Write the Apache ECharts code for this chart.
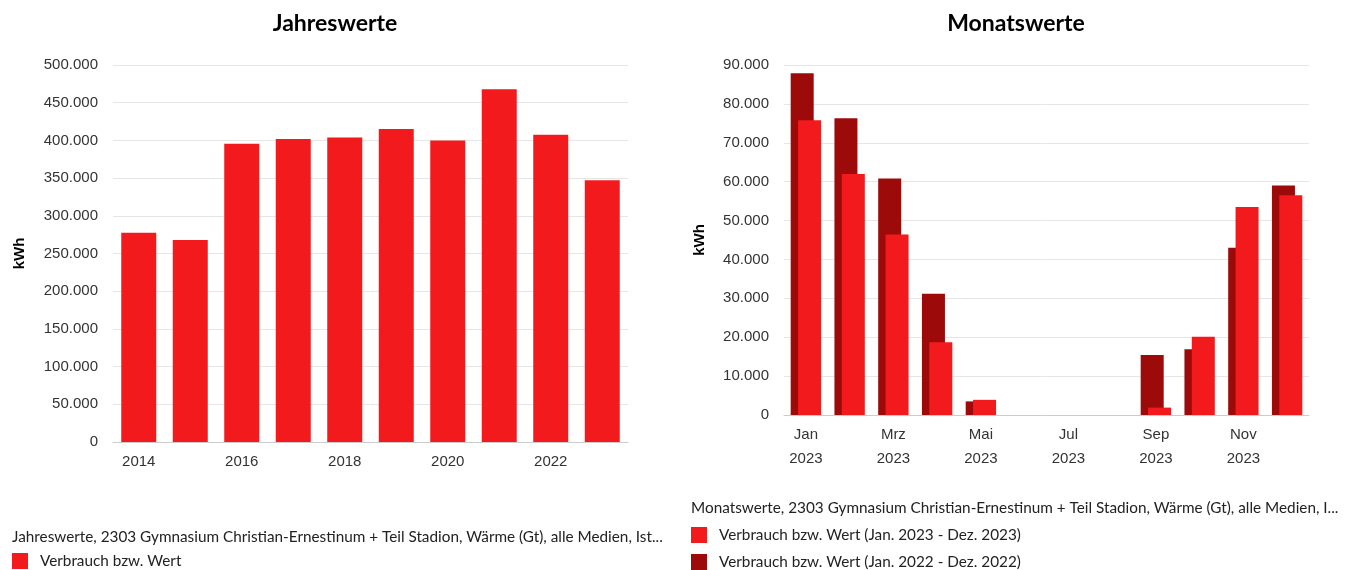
<!DOCTYPE html>
<html>
<head>
<meta charset="utf-8">
<script src="https://cdn.jsdelivr.net/npm/echarts@6/dist/echarts.min.js"></script>
<style>
html,body{margin:0;padding:0;background:#fff;}
#chart{width:1345px;height:570px;}
</style>
</head>
<body>
<div id="chart"></div>
<script>
// ---- data ----
const years = ['2014','2015','2016','2017','2018','2019','2020','2021','2022','2023'];
const yearValues = [277500, 268000, 395500, 402000, 404000, 415000, 400000, 468000, 407500, 347000];

const months = ['Jan','Feb','Mrz','Apr','Mai','Jun','Jul','Aug','Sep','Okt','Nov','Dez'];
const monthYear = '2023';
const values2022 = [87900, 76300, 60800, 31200, 3500, 0, 0, 0, 15400, 16900, 43000, 59000];
const values2023 = [75800, 62000, 46400, 18700, 3900, 0, 0, 0, 1900, 20100, 53500, 56500];

const leftTitle = 'Jahreswerte';
const rightTitle = 'Monatswerte';
const leftCaption = 'Jahreswerte, 2303 Gymnasium Christian-Ernestinum + Teil Stadion, Wärme (Gt), alle Medien, Ist...';
const rightCaption = 'Monatswerte, 2303 Gymnasium Christian-Ernestinum + Teil Stadion, Wärme (Gt), alle Medien, I...';
const nameYear = 'Verbrauch bzw. Wert';
const name2023 = 'Verbrauch bzw. Wert (Jan. 2023 - Dez. 2023)';
const name2022 = 'Verbrauch bzw. Wert (Jan. 2022 - Dez. 2022)';
const unit = 'kWh';

// ---- styles ----
const RED = '#f21a1d';
const DARK = '#9c0a0a';
const LABEL = '#333333';
const AXISFONT = '"Liberation Sans", Arial, sans-serif';
const CAPFONT = 'Lato, "Open Sans", sans-serif';
const CAPSIZE = 15.3;

function fmt(v){ return String(v).replace(/\B(?=(\d{3})+(?!\d))/g, '.'); }

const chart = echarts.init(document.getElementById('chart'));

const yAxisCommon = {
  type: 'value',
  min: 0,
  axisLabel: { color: LABEL, fontSize: 15, fontFamily: AXISFONT, margin: 15, formatter: fmt },
  splitLine: { lineStyle: { color: '#e6e6e6', width: 1 } },
  axisLine: { show: false },
  axisTick: { show: false },
  name: unit,
  nameLocation: 'middle',
  nameRotate: 90,
  nameTextStyle: { color: '#000', fontSize: 15, fontWeight: 'bold', fontFamily: AXISFONT }
};

const legendCommon = {
  orient: 'vertical', icon: 'rect', itemWidth: 16, itemHeight: 16, itemGap: 11, padding: 0, height: 80,
  textStyle: { color: '#222', fontSize: CAPSIZE, fontFamily: CAPFONT, padding: [0, 0, 0, 7] }
};

const option = {
  animation: false,
  backgroundColor: '#fff',
  graphic: [
    { type: 'text', x: 335, y: 12, style: { text: leftTitle, font: 'bold 23px Lato, "Open Sans", sans-serif', fill: '#000', align: 'center', verticalAlign: 'top' } },
    { type: 'text', x: 1016, y: 12, style: { text: rightTitle, font: 'bold 23px Lato, "Open Sans", sans-serif', fill: '#000', align: 'center', verticalAlign: 'top' } },
    { type: 'text', x: 12, y: 537, style: { text: leftCaption, font: CAPSIZE + 'px ' + CAPFONT, fill: '#222', align: 'left', verticalAlign: 'middle' } },
    { type: 'text', x: 691, y: 508, style: { text: rightCaption, font: CAPSIZE + 'px ' + CAPFONT, fill: '#222', align: 'left', verticalAlign: 'middle' } }
  ],
  legend: [
    Object.assign({}, legendCommon, { left: 12, top: 553, data: [nameYear] }),
    Object.assign({}, legendCommon, { left: 691, top: 527, data: [name2023, name2022] })
  ],
  grid: [
    { left: 113, top: 65, width: 515, height: 377 },
    { left: 784, top: 65, width: 525, height: 350 }
  ],
  xAxis: [
    {
      type: 'category', gridIndex: 0, data: years,
      axisLine: { lineStyle: { color: '#cccccc' } },
      axisTick: { interval: 1, alignWithLabel: true, length: 6, lineStyle: { color: '#cccccc' } },
      axisLabel: { interval: 1, color: LABEL, fontSize: 15, fontFamily: AXISFONT, margin: 12 }
    },
    {
      type: 'category', gridIndex: 1, data: months,
      axisLine: { lineStyle: { color: '#cccccc' } },
      axisTick: { interval: 1, alignWithLabel: true, length: 6, lineStyle: { color: '#cccccc' } },
      axisLabel: { interval: 1, color: LABEL, fontSize: 15, fontFamily: AXISFONT, margin: 8, lineHeight: 24,
        formatter: v => v + '\n' + monthYear }
    }
  ],
  yAxis: [
    Object.assign({}, yAxisCommon, { gridIndex: 0, max: 500000, interval: 50000, nameGap: 86 }),
    Object.assign({}, yAxisCommon, { gridIndex: 1, max: 90000, interval: 10000, nameGap: 77 })
  ],
  series: [
    {
      name: nameYear, type: 'bar', xAxisIndex: 0, yAxisIndex: 0,
      data: yearValues, barWidth: 35,
      itemStyle: { color: RED }
    },
    {
      name: name2022, type: 'bar', xAxisIndex: 1, yAxisIndex: 1,
      data: values2022, barWidth: 23, barGap: '-68%',
      itemStyle: { color: DARK }
    },
    {
      name: name2023, type: 'bar', xAxisIndex: 1, yAxisIndex: 1,
      data: values2023, barWidth: 23, barGap: '-68%',
      itemStyle: { color: RED }
    }
  ]
};
chart.setOption(option);
</script>
</body>
</html>
